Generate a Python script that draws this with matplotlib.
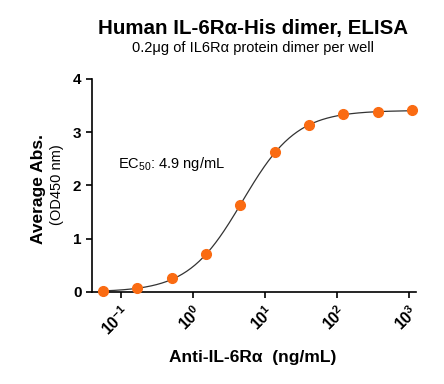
import numpy as np
import matplotlib
matplotlib.use("Agg")
import matplotlib.pyplot as plt

plt.rcParams['font.family'] = ['Liberation Sans', 'DejaVu Sans']
plt.rcParams['mathtext.fontset'] = 'custom'
plt.rcParams['mathtext.rm'] = 'Liberation Sans'
plt.rcParams['mathtext.bf'] = 'Liberation Sans:bold'
plt.rcParams['mathtext.it'] = 'Liberation Sans:italic'

# data
conc = [0.0565, 0.169, 0.508, 1.52, 4.57, 13.7, 41.2, 123.5, 370.4, 1111.1]
od450 = [0.01, 0.08, 0.26, 0.71, 1.63, 2.63, 3.14, 3.35, 3.375, 3.41]

# 4PL fit parameters (estimated)
bottom, top, ec50, hill = 0.0, 3.41, 4.9, 1.15

xticks = [0.1, 1, 10, 100, 1000]
xticklabels = [r'$\mathbf{10^{-1}}$', r'$\mathbf{10^{0}}$', r'$\mathbf{10^{1}}$',
               r'$\mathbf{10^{2}}$', r'$\mathbf{10^{3}}$']
yticks = [0, 1, 2, 3, 4]

orange = '#FA6B12'

fig = plt.figure(figsize=(4.44, 3.84), dpi=100)
ax = fig.add_axes([0.207, 0.2396, 0.73, 0.5547])

xs = np.logspace(np.log10(conc[0]), np.log10(conc[-1]), 300)
ys = bottom + (top - bottom) / (1 + (ec50 / xs) ** hill)
ax.plot(xs, ys, color='#333333', lw=0.9, zorder=2)
ax.plot(conc, od450, 'o', color=orange, ms=7, mec=orange, clip_on=False, zorder=3)

ax.set_xscale('log')
ax.set_xlim(10 ** -1.40, 10 ** 3.1)
ax.set_ylim(0, 4)
ax.set_xticks(xticks)
ax.set_xticklabels(xticklabels, rotation=45, ha='right', va='top', rotation_mode='anchor', fontsize=11.5)
ax.xaxis.set_minor_locator(matplotlib.ticker.NullLocator())
ax.set_yticks(yticks)
ax.set_yticklabels([str(v) for v in yticks], fontsize=11, fontweight='bold')

for s in ['top', 'right']:
    ax.spines[s].set_visible(False)
for s in ['left', 'bottom']:
    ax.spines[s].set_linewidth(1.2)
ax.tick_params(width=1.2, length=4, colors='black')

ax.text(0.08, 0.6, 'EC$_{50}$: 4.9 ng/mL', transform=ax.transAxes, fontsize=10.5, va='center')

fig.text(0.57, 0.927, 'Human IL-6Rα-His dimer, ELISA', ha='center', va='center',
         fontsize=14.8, fontweight='bold')
fig.text(0.57, 0.875, '0.2μg of IL6Rα protein dimer per well', ha='center', va='center', fontsize=10.5)
fig.text(0.57, 0.068, 'Anti-IL-6Rα  (ng/mL)', ha='center', va='center', fontsize=12.5, fontweight='bold')
fig.text(0.086, 0.508, 'Average Abs.', rotation=90, ha='center', va='center', fontsize=12.5, fontweight='bold')
fig.text(0.128, 0.518, '(OD450 nm)', rotation=90, ha='center', va='center', fontsize=10.5)

fig.savefig('out.png', dpi=100)
